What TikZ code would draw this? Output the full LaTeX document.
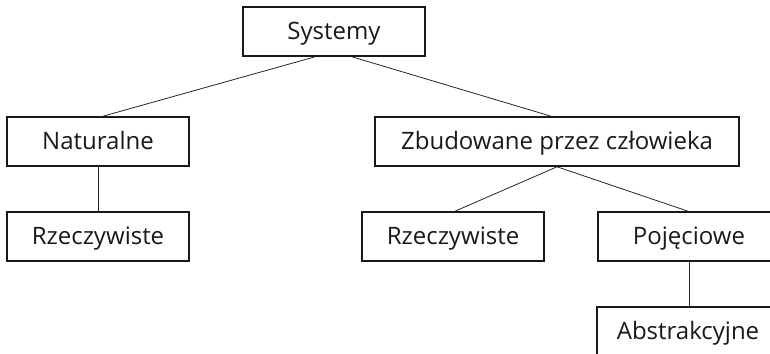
\documentclass[tikz,border=0pt]{standalone}
\usepackage{fontspec}
\setmainfont{Open Sans}
\begin{document}
\begin{tikzpicture}[x=1pt,y=-1pt,
  box/.style={draw=black!90,line width=1.6pt,minimum height=49pt,inner sep=0pt,
    font=\fontsize{24}{28}\selectfont,text=black!90,text height=16pt,text depth=0pt},
  w1/.style={minimum width=182pt},
  w2/.style={minimum width=364pt},
  link/.style={draw=black!85,line width=0.8pt}]
\useasboundingbox (0,0) rectangle (770,353);
\clip (0,0) rectangle (770,353);
\node[box,w1] (sys) at (334,31.5) {Systemy};
\node[box,w1] (nat) at (98,141.5) {Naturalne};
\node[box,w2] (zb) at (557,141.5) {Zbudowane przez człowieka};
\node[box,w1] (rz1) at (98,236.5) {Rzeczywiste};
\node[box,w1] (rz2) at (453,236.5) {Rzeczywiste};
\node[box,w1] (poj) at (689,236.5) {Pojęciowe};
\node[box,w1] (abs) at (688,331.5) {Abstrakcyjne};
\draw[link] ([xshift=-19pt]sys.south) -- ([xshift=5pt]nat.north);
\draw[link] ([xshift=18pt]sys.south) -- ([xshift=-6pt]zb.north);
\draw[link] (nat.south) -- (rz1.north);
\draw[link] (zb.south) -- ([xshift=2pt]rz2.north);
\draw[link] (zb.south) -- ([xshift=-1pt]poj.north);
\draw[link] (poj.south) -- ([xshift=1pt]abs.north);
\end{tikzpicture}
\end{document}
